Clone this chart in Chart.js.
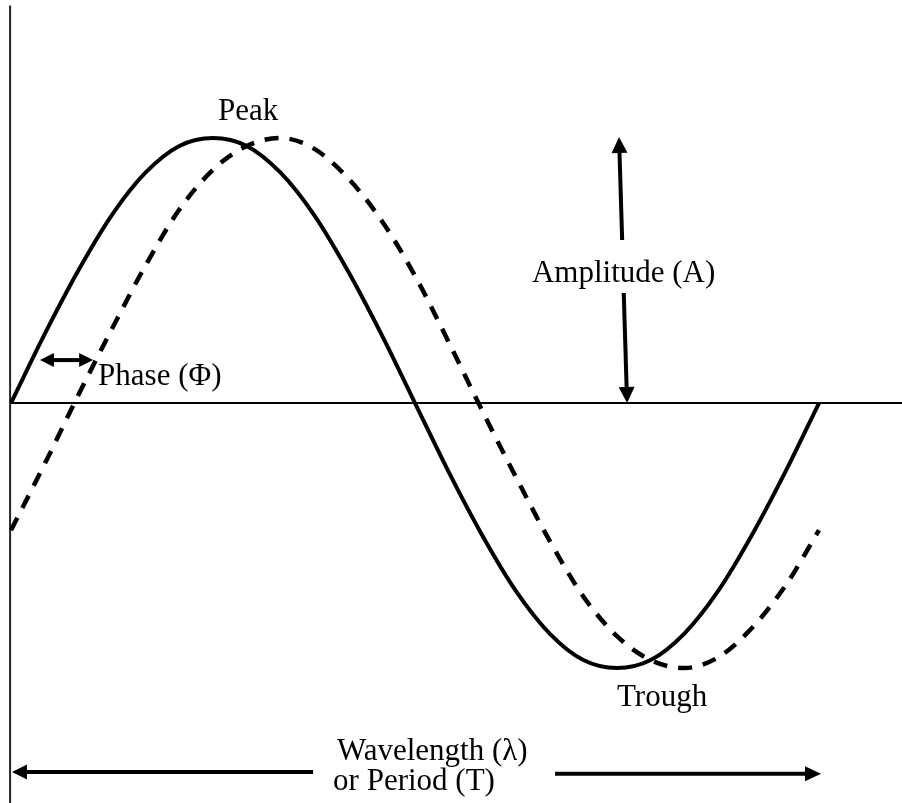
<!DOCTYPE html>
<html>
<head>
<meta charset="utf-8">
<script src="https://cdn.jsdelivr.net/npm/chart.js@4"></script>
<style>
    html, body { margin: 0; padding: 0; background: #fff; }
    #wrap { width: 902px; height: 803px; position: relative; }
</style>
</head>
<body>
<div id="wrap"><canvas id="wave"></canvas></div>
<script>
// Phase angle in degrees along one wavelength
const degrees = [0, 15, 30, 45, 60, 75, 90, 105, 120, 135, 150, 165, 180,
    195, 210, 225, 240, 255, 270, 285, 300, 315, 330, 345, 360];

// Solid wave (amplitude units)
const referenceWave = [0, 0.26, 0.5, 0.71, 0.87, 0.97, 1, 0.97, 0.87, 0.71, 0.5, 0.26, 0,
    -0.26, -0.5, -0.71, -0.87, -0.97, -1, -0.97, -0.87, -0.71, -0.5, -0.26, 0];

// Dashed wave, lagging the solid one
const shiftedWave = [-0.48, -0.23, 0.03, 0.28, 0.52, 0.73, 0.88, 0.97, 1.0, 0.96, 0.85, 0.69, 0.48,
    0.23, -0.03, -0.28, -0.52, -0.73, -0.88, -0.97, -1.0, -0.96, -0.85, -0.69, -0.48];

// Axis lines
const verticalAxisX = [-0.4, -0.4];
const verticalAxisY = [1.5, -1.51];
const zeroLineX = [0, 397];
const zeroLineY = [0, 0];

// Arrows
const phaseArrowX = [12.9, 36.6];
const phaseArrowY = [0.162, 0.162];
const ampUpperX = [270.9, 272.3];
const ampUpperY = [1.004, 0.615];
const ampLowerX = [273.0, 274.5];
const ampLowerY = [0.415, 0];
const waveLeftX = [0.45, 134.6];
const waveLeftY = [-1.392, -1.392];
const waveRightX = [242.4, 360.9];
const waveRightY = [-1.399, -1.399];

// Labels (left edge / baseline)
const labelTexts = ['Peak', 'Phase (\u03A6)', 'Amplitude (A)', 'Trough', 'Wavelength (\u03BB)', 'or Period (T)'];
const labelX = [92.2, 38.8, 232.1, 270.0, 145.2, 143.5];
const labelY = [1.068, 0.068, 0.457, -1.143, -1.347, -1.460];

const INK = '#000';

function pts(xs, ys) {
    return xs.map((x, i) => ({ x: x, y: ys[i] }));
}

function arrowSet(xs, ys, heads, headLen, headHalf) {
    return {
        data: pts(xs, ys),
        showLine: false,
        pointRadius: 0,
        arrow: { heads: heads, len: headLen, half: headHalf, width: 4 },
    };
}

// Draws arrows from the dataset element positions, and the text labels
const annotatePlugin = {
    id: 'annotate',
    afterDatasetsDraw(chart) {
        const ctx = chart.ctx;
        ctx.save();
        chart.data.datasets.forEach((ds, i) => {
            if (!ds.arrow) return;
            const els = chart.getDatasetMeta(i).data;
            const a = els[0], b = els[els.length - 1];
            const dx = b.x - a.x, dy = b.y - a.y;
            const d = Math.hypot(dx, dy);
            const ux = dx / d, uy = dy / d;
            const o = ds.arrow;
            const s = (o.heads === 'start' || o.heads === 'both') ? o.len - 1 : 0;
            const e = (o.heads === 'end' || o.heads === 'both') ? o.len - 1 : 0;

            ctx.strokeStyle = INK;
            ctx.fillStyle = INK;
            ctx.lineWidth = o.width;
            ctx.lineCap = 'butt';
            ctx.beginPath();
            ctx.moveTo(a.x + ux * s, a.y + uy * s);
            ctx.lineTo(b.x - ux * e, b.y - uy * e);
            ctx.stroke();

            const head = (tx, ty, dirx, diry) => {
                const bx = tx - dirx * o.len, by = ty - diry * o.len;
                ctx.beginPath();
                ctx.moveTo(tx, ty);
                ctx.lineTo(bx - diry * o.half, by + dirx * o.half);
                ctx.lineTo(bx + diry * o.half, by - dirx * o.half);
                ctx.closePath();
                ctx.fill();
            };
            if (s) head(a.x, a.y, -ux, -uy);
            if (e) head(b.x, b.y, ux, uy);
        });

        const xs = chart.scales.x, ys = chart.scales.y;
        ctx.font = '31px "Liberation Serif", "DejaVu Serif", serif';
        ctx.fillStyle = INK;
        ctx.textAlign = 'left';
        ctx.textBaseline = 'alphabetic';
        labelTexts.forEach((t, i) => {
            ctx.fillText(t, xs.getPixelForValue(labelX[i]), ys.getPixelForValue(labelY[i]));
        });
        ctx.restore();
    }
};

new Chart(document.getElementById('wave'), {
    type: 'scatter',
    data: {
        datasets: [
            {
                data: pts(degrees, referenceWave),
                showLine: true,
                borderColor: INK,
                borderWidth: 4,
                pointRadius: 0,
                cubicInterpolationMode: 'monotone',
            },
            {
                data: pts(degrees, shiftedWave),
                showLine: true,
                borderColor: INK,
                borderWidth: 4.5,
                borderDash: [14, 11],
                pointRadius: 0,
                cubicInterpolationMode: 'monotone',
            },
            {
                data: pts(verticalAxisX, verticalAxisY),
                showLine: true,
                borderColor: '#222',
                borderWidth: 2,
                pointRadius: 0,
            },
            {
                data: pts(zeroLineX, zeroLineY),
                showLine: true,
                borderColor: INK,
                borderWidth: 2.2,
                pointRadius: 0,
            },
            arrowSet(phaseArrowX, phaseArrowY, 'both', 14, 7),
            arrowSet(ampUpperX, ampUpperY, 'start', 16, 8),
            arrowSet(ampLowerX, ampLowerY, 'end', 16, 8),
            arrowSet(waveLeftX, waveLeftY, 'start', 15, 7.5),
            arrowSet(waveRightX, waveRightY, 'end', 16, 7.5),
        ]
    },
    options: {
        responsive: true,
        maintainAspectRatio: false,
        animation: false,
        events: [],
        layout: { padding: 0 },
        plugins: {
            legend: { display: false },
            tooltip: { enabled: false },
        },
        scales: {
            x: { type: 'linear', display: false, min: -4.9, max: 396.98 },
            y: { type: 'linear', display: false, min: -1.5094, max: 1.5208 },
        }
    },
    plugins: [annotatePlugin]
});
</script>
</body>
</html>
